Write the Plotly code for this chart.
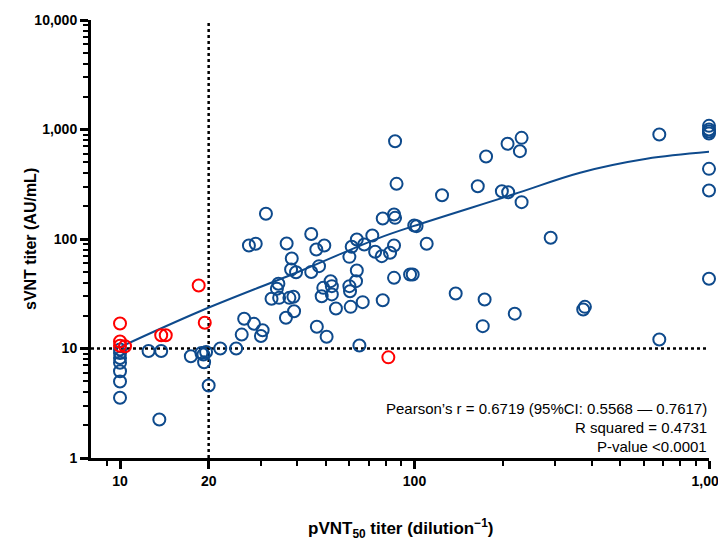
import plotly.graph_objects as go

# ---------------- data ----------------
blue_x = [10, 10, 10, 10, 10, 10, 10,
          12.5, 13.8, 13.6, 17.4, 18.9, 19.2, 19.6, 19.3, 20, 21.9, 24.8, 25.9, 26.4,
          28.5, 30.5, 30.1, 32.7, 34.7, 37.6, 38.8, 36.6, 39, 46.6, 50.3, 48.4, 52.4,
          54.1, 60.7, 60.4, 66.7, 78, 65,
          85.9, 86.9, 31.3, 27.4, 28.9, 36.8, 44.6, 46.4, 49.4, 38.3, 38.1, 39.6, 44.6,
          47.4, 34.5, 34.1, 63.7, 61.2, 67.5, 60.1, 71.9, 73.5, 77.4, 82.6, 85.2, 78,
          85.2, 85.9, 85.2, 63.7, 63.3, 51.9, 52.4, 49, 60.1,
          99.8, 101.6, 110, 96.6, 98.6, 124, 138, 164, 175, 173, 170.5, 198, 208, 207,
          231, 228, 231, 219, 290, 374, 379, 678, 678,
          1000, 1000, 1000, 1000, 1000, 1000, 1000]
blue_y = [9.8, 9.1, 8.2, 7.4, 6.2, 5.0, 3.55,
          9.5, 9.5, 2.25, 8.5, 9.1, 8.8, 9.3, 7.5, 4.6, 10, 10, 13.4, 18.7,
          16.8, 14.7, 13.0, 28.5, 29, 29, 29.7, 19.1, 21.9, 15.8, 12.8, 30, 31.2,
          23.2, 24, 33.3, 26.5, 27.6, 10.65,
          782, 319, 170, 87.3, 90.4, 91, 111, 80.2, 87.3, 66.4, 52.6, 49.7, 50,
          56.5, 39, 35.1, 98.9, 84.9, 89.1, 68.7, 107.6, 76.4, 69.7, 74.8, 87.3, 154,
          167.5, 156, 44.2, 51.5, 41.2, 41.2, 37.1, 35.8, 37.1,
          133, 131, 90.4, 47.4, 47.4, 251, 31.8, 303, 566, 28, 16, 273, 267, 740,
          839, 634, 217, 20.8, 102.6, 22.7, 24, 900, 12.1,
          1080, 1000, 960, 920, 437, 277, 43.4]

red_x = [10, 10, 10, 10.4, 13.8, 14.3, 19.4, 18.5, 81.5]
red_y = [16.9, 11.6, 10.6, 10.5, 13.2, 13.2, 17.2, 37.6, 8.3]

fit_x = [10, 18.7, 40.8, 76, 99, 217, 365, 614, 1000]
fit_y = [10.3, 21.9, 50.8, 102.5, 131, 256, 403, 540, 625]

ref_x = 20     # vertical dotted cut-off
ref_y = 10     # horizontal dotted cut-off

x_tick_vals = [10, 20, 100, 1000]
x_tick_text = ["10", "20", "100", "1,000"]
x_minor_vals = [9, 30, 40, 50, 60, 70, 80, 90, 200, 300, 400, 500, 600, 700, 800, 900]
y_tick_vals = [1, 10, 100, 1000, 10000]
y_tick_text = ["1", "10", "100", "1,000", "10,000"]
y_minor_vals = [k * 10 ** d for d in range(4) for k in range(2, 10)]

x_range_log = [0.9015, 3.0]
y_range_log = [0, 4]

stats_lines = ["Pearson\u2019s r = 0.6719 (95%CI: 0.5568 \u2014 0.7617)",
               "R squared = 0.4731",
               "P-value <0.0001"]

# ---------------- styles ----------------
BLUE = "#0E4A8C"
RED = "#FF0000"
FONT = "Liberation Sans, Arial, sans-serif"

fig = go.Figure()

x_left = 10 ** x_range_log[0]
x_right = 10 ** x_range_log[1]

fig.add_trace(go.Scatter(x=[ref_x, ref_x], y=[10 ** y_range_log[0], 10 ** y_range_log[1]],
                         mode="lines", line=dict(color="black", width=2.5, dash="dot"),
                         hoverinfo="skip", showlegend=False, cliponaxis=False))
fig.add_trace(go.Scatter(x=[x_left, x_right], y=[ref_y, ref_y],
                         mode="lines", line=dict(color="black", width=2.5, dash="dot"),
                         hoverinfo="skip", showlegend=False, cliponaxis=False))

fig.add_trace(go.Scatter(x=fit_x, y=fit_y, mode="lines",
                         line=dict(color=BLUE, width=2, shape="spline", smoothing=1.0),
                         showlegend=False))

fig.add_trace(go.Scatter(x=blue_x, y=blue_y, mode="markers",
                         marker=dict(symbol="circle-open", size=12, color=BLUE,
                                     line=dict(width=2, color=BLUE)),
                         showlegend=False, cliponaxis=False))
fig.add_trace(go.Scatter(x=red_x, y=red_y, mode="markers",
                         marker=dict(symbol="circle-open", size=12, color=RED,
                                     line=dict(width=2, color=RED)),
                         showlegend=False, cliponaxis=False))

axis_common = dict(
    type="log", showline=True, linewidth=3, linecolor="black", mirror=False,
    showgrid=False, zeroline=False, ticks="outside", ticklen=8, tickwidth=2.5,
    tickcolor="black", automargin=False, ticklabeloverflow="allow",
    tickfont=dict(family=FONT, size=14, color="black", weight="bold"),
)

fig.update_xaxes(range=x_range_log, tickmode="array", tickvals=x_tick_vals,
                 ticktext=x_tick_text,
                 minor=dict(tickmode="array", tickvals=x_minor_vals, ticks="outside",
                            ticklen=5, tickwidth=2, tickcolor="black", showgrid=False),
                 **axis_common)
fig.update_yaxes(range=y_range_log, tickmode="array", tickvals=y_tick_vals,
                 ticktext=y_tick_text,
                 minor=dict(tickmode="array", tickvals=y_minor_vals, ticks="outside",
                            ticklen=5, tickwidth=2, tickcolor="black", showgrid=False),
                 **axis_common)

annotations = [
    dict(text="sVNT titer (AU/mL)", xref="paper", yref="paper", x=-0.0987, y=0.5,
         textangle=-90, showarrow=False, xanchor="center", yanchor="middle",
         font=dict(family=FONT, size=16, color="black", weight="bold")),
    dict(text="pVNT<sub>50</sub> titer (dilution<sup>\u22121</sup>)", xref="paper",
         yref="paper", x=0.5, y=-0.16, showarrow=False, xanchor="center",
         yanchor="middle", font=dict(family=FONT, size=17, color="black", weight="bold")),
]
for i, line in enumerate(stats_lines):
    annotations.append(dict(text=line, xref="paper", yref="paper", x=1.0,
                            y=0.114 - i * 0.0434, showarrow=False, xanchor="right",
                            yanchor="middle",
                            font=dict(family=FONT, size=15, color="black")))

# the page body adds an 8px margin, so the figure is 8px smaller on each side
fig.update_layout(
    width=718, height=532,
    margin=dict(l=83, r=17, t=12, b=82),
    paper_bgcolor="white", plot_bgcolor="white",
    annotations=annotations,
)

fig.write_html("out.html")
